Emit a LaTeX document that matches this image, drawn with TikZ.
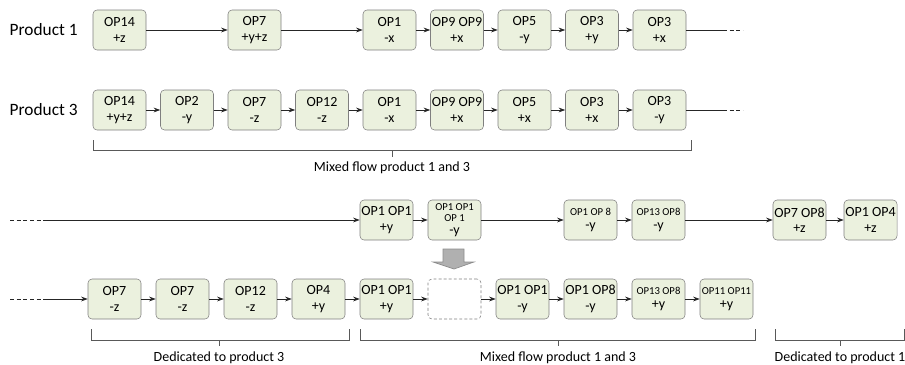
\documentclass[tikz,border=0pt]{standalone}
\usepackage{fontspec}
\setmainfont{Carlito}
\usetikzlibrary{arrows.meta}
\definecolor{boxfill}{HTML}{EBF1DE}
\definecolor{boxline}{HTML}{7F7F7F}
\definecolor{flowline}{HTML}{262626}
\definecolor{bracketline}{HTML}{595959}
\definecolor{arrowfill}{HTML}{B0B0B0}
\definecolor{arrowline}{HTML}{8C8C8C}
\newcommand{\opsmall}{\fontsize{8}{9}\selectfont}

\begin{document}
\begin{tikzpicture}[x=0.75pt, y=-0.75pt, >={Stealth[length=5pt,width=3.6pt]}, font=\fontsize{10.5}{11.5}\selectfont]
\tikzset{opbox/.style={draw=boxline, fill=boxfill, rounded corners=3pt, minimum width=39.75pt, minimum height=30pt, inner sep=0pt, align=center},
  emptybox/.style={opbox, fill=none, dash pattern=on 2.2pt off 1.6pt},
  flow/.style={draw=flowline, line width=0.6pt},
  bracket/.style={draw=bracketline, line width=0.75pt},
  rowlabel/.style={font=\fontsize{13}{15}\selectfont, anchor=west}}
\useasboundingbox (0,0) rectangle (905,364);

% product 1
\node[rowlabel] (prod1) at (5,30) {Product 1};
\foreach \k/\opname/\opdir [count=\i] in {0/OP14/+z, 2/OP7/+y+z, 4/OP1/-x, 5/OP9 OP9/+x, 6/OP5/-y, 7/OP3/+y, 8/OP3/+x}
  \node[opbox] (a\i) at ({119.5+67.5*\k},30) {\opname\\\opdir};
\foreach \i [evaluate=\i as \j using int(\i+1)] in {1,...,6}
  \draw[flow,->] (a\i)--(a\j);
\coordinate (a-end) at (723,30);
\coordinate (a-tail) at (743,30);
\draw[flow] (a7)--(a-end);
\draw[flow, dash pattern=on 3pt off 2pt] (a-end)--(a-tail);

% product 3
\node[rowlabel] (prod3) at (5,110) {Product 3};
\foreach \opname/\opdir [count=\i] in {OP14/+y+z, OP2/-y, OP7/-z, OP12/-z, OP1/-x, OP9 OP9/+x, OP5/+x, OP3/+x, OP3/-y}
  \node[opbox] (b\i) at ({119.5+67.5*(\i-1)},110) {\opname\\\opdir};
\foreach \i [evaluate=\i as \j using int(\i+1)] in {1,...,8}
  \draw[flow,->] (b\i)--(b\j);
\coordinate (b-end) at (723,110);
\coordinate (b-tail) at (743,110);
\draw[flow] (b9)--(b-end);
\draw[flow, dash pattern=on 3pt off 2pt] (b-end)--(b-tail);

\draw[bracket] (93,140)--(93,150)--(691,150)--(691,140);
\draw[bracket] (392,150)--(392,157);
\node[anchor=base] (mix1) at (392,171) {Mixed flow product 1 and 3};

% merged line before
\coordinate (c-tail) at (10,220);
\coordinate (c-start) at (47,220);
\node[opbox] (c1) at (386.5,220) {OP1 OP1\\+y};
\node[opbox] (c2) at (454.5,220) {{\opsmall OP1 OP1}\\[-3pt]{\opsmall OP 1}\\[-1.5pt]-y};
\node[opbox] (c3) at (590.5,220) {{\opsmall OP1 OP 8}\\[-1pt]-y};
\node[opbox] (c4) at (658.5,220) {{\opsmall OP13 OP8}\\[-1pt]-y};
\node[opbox] (c5) at (799.5,220) {OP7 OP8\\+z};
\node[opbox] (c6) at (870.5,220) {OP1 OP4\\+z};
\draw[flow, dash pattern=on 3pt off 2pt] (c-tail)--(c-start);
\draw[flow,->] (c-start)--(c1);
\foreach \i [evaluate=\i as \j using int(\i+1)] in {1,...,5}
  \draw[flow,->] (c\i)--(c\j);

% arrow down
\draw[fill=arrowfill, draw=arrowline, line width=0.5pt] (443,249)--(464,249)--(464,262)--(474,262)--(454,269)--(433,262)--(443,262)--cycle;

% merged line after
\coordinate (d-tail) at (10,299);
\coordinate (d-start) at (47,299);
\foreach \opname/\opdir [count=\i] in {OP7/-z, OP7/-z, OP12/-z, OP4/+y, OP1 OP1/+y}
  \node[opbox] (d\i) at ({114.5+68*(\i-1)},299) {\opname\\\opdir};
\node[emptybox] (d6) at (454.5,299) {};
\node[opbox] (d7) at (522.5,299) {OP1 OP1\\-y};
\node[opbox] (d8) at (590.5,299) {OP1 OP8\\-y};
\node[opbox] (d9) at (658.5,299) {{\opsmall OP13 OP8}\\[-1pt]+y};
\node[opbox] (d10) at (726.5,299) {{\opsmall OP11 OP11}\\[-1pt]+y};
\draw[flow, dash pattern=on 3pt off 2pt] (d-tail)--(d-start);
\draw[flow,->] (d-start)--(d1);
\foreach \i [evaluate=\i as \j using int(\i+1)] in {1,...,9}
  \draw[flow,->] (d\i)--(d\j);

\draw[bracket] (91,329)--(91,340)--(349,340)--(349,329);
\draw[bracket] (219,340)--(219,346);
\node[anchor=base] (ded3) at (219,361) {Dedicated to product 3};
\draw[bracket] (360,329)--(360,340)--(755,340)--(755,329);
\draw[bracket] (558,340)--(558,346);
\node[anchor=base] (mix2) at (558,361) {Mixed flow product 1 and 3};
\draw[bracket] (775,329)--(775,340)--(904,340)--(904,329);
\draw[bracket] (840,340)--(840,346);
\node[anchor=base] (ded1) at (840,361) {Dedicated to product 1};
\end{tikzpicture}
\end{document}
